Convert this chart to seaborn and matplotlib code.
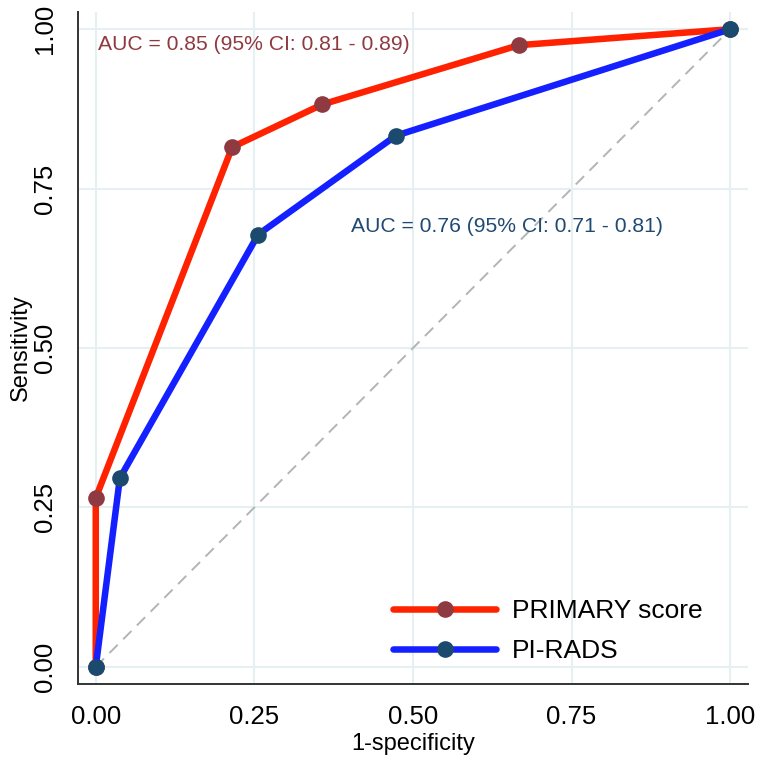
import matplotlib
matplotlib.use("Agg")
import matplotlib.pyplot as plt
import seaborn as sns
import pandas as pd

# Data
primary_fpr = [0.0, 0.0, 0.215, 0.357, 0.667, 1.0]
primary_tpr = [0.0, 0.265, 0.815, 0.882, 0.975, 1.0]
pirads_fpr = [0.0, 0.038, 0.256, 0.473, 1.0]
pirads_tpr = [0.0, 0.296, 0.678, 0.833, 1.0]
diag = [0.0, 1.0]
ticks = [0.0, 0.25, 0.5, 0.75, 1.0]
tick_labels = ["0.00", "0.25", "0.50", "0.75", "1.00"]
labels = ["PRIMARY score", "PI-RADS"]
auc_texts = ["AUC = 0.85 (95% CI: 0.81 - 0.89)", "AUC = 0.76 (95% CI: 0.71 - 0.81)"]

sns.set_theme(style="white")
plt.rcParams["font.family"] = ["Liberation Sans", "DejaVu Sans"]

fig = plt.figure(figsize=(7.6, 7.64), dpi=100)
ax = fig.add_axes([78 / 760, 80 / 764, (748 - 78) / 760, (684 - 12) / 764])

grid_c = "#e6eff2"
for t in ticks:
    ax.axvline(t, color=grid_c, lw=1.5, zorder=0)
    ax.axhline(t, color=grid_c, lw=1.5, zorder=0)

sns.lineplot(x=diag, y=diag, ax=ax, color="#b4b4b4", lw=1.4,
             linestyle=(0, (6, 4)), zorder=1, estimator=None)

red, red_m = "#ff2200", "#8e3a40"
blue, blue_m = "#1420ff", "#1b4a6e"

df1 = pd.DataFrame({"x": primary_fpr, "y": primary_tpr})
df2 = pd.DataFrame({"x": pirads_fpr, "y": pirads_tpr})
sns.lineplot(data=df1, x="x", y="y", sort=False, estimator=None, ax=ax,
             color=red, lw=4.7, marker="o", markersize=12,
             markerfacecolor=red_m, markeredgecolor=red_m, markeredgewidth=0,
             label=labels[0], zorder=3)
sns.lineplot(data=df2, x="x", y="y", sort=False, estimator=None, ax=ax,
             color=blue, lw=4.7, marker="o", markersize=12,
             markerfacecolor=blue_m, markeredgecolor=blue_m, markeredgewidth=0,
             label=labels[1], zorder=4)

ax.text(0.003, 0.976, auc_texts[0], color="#8e3a40", fontsize=15.2,
        va="center", ha="left")
ax.text(0.403, 0.69, auc_texts[1], color="#1f4a73", fontsize=15.2,
        va="center", ha="left")

ax.set_xlim(-0.028, 1.028)
ax.set_ylim(-0.027, 1.027)
ax.set_xticks(ticks)
ax.set_xticklabels(tick_labels)
ax.set_yticks(ticks)
ax.set_yticklabels(tick_labels, rotation=90, va="center")
ax.tick_params(axis="both", direction="out", length=8, width=1.2,
               color="#222222", labelsize=18.5, labelcolor="black", pad=7)
for s in ["top", "right"]:
    ax.spines[s].set_visible(False)
for s in ["left", "bottom"]:
    ax.spines[s].set_color("#333333")
    ax.spines[s].set_linewidth(1.4)

ax.set_xlabel("1-specificity", fontsize=17, color="black", labelpad=3)
ax.set_ylabel("Sensitivity", fontsize=17, color="black", labelpad=1)

leg = ax.legend(loc="lower left", bbox_to_anchor=(0.455, 0.015), frameon=False,
                fontsize=19, handlelength=3.9, handletextpad=0.6,
                labelspacing=0.62, borderaxespad=0, labelcolor="black")

fig.savefig("out.png", dpi=100)
